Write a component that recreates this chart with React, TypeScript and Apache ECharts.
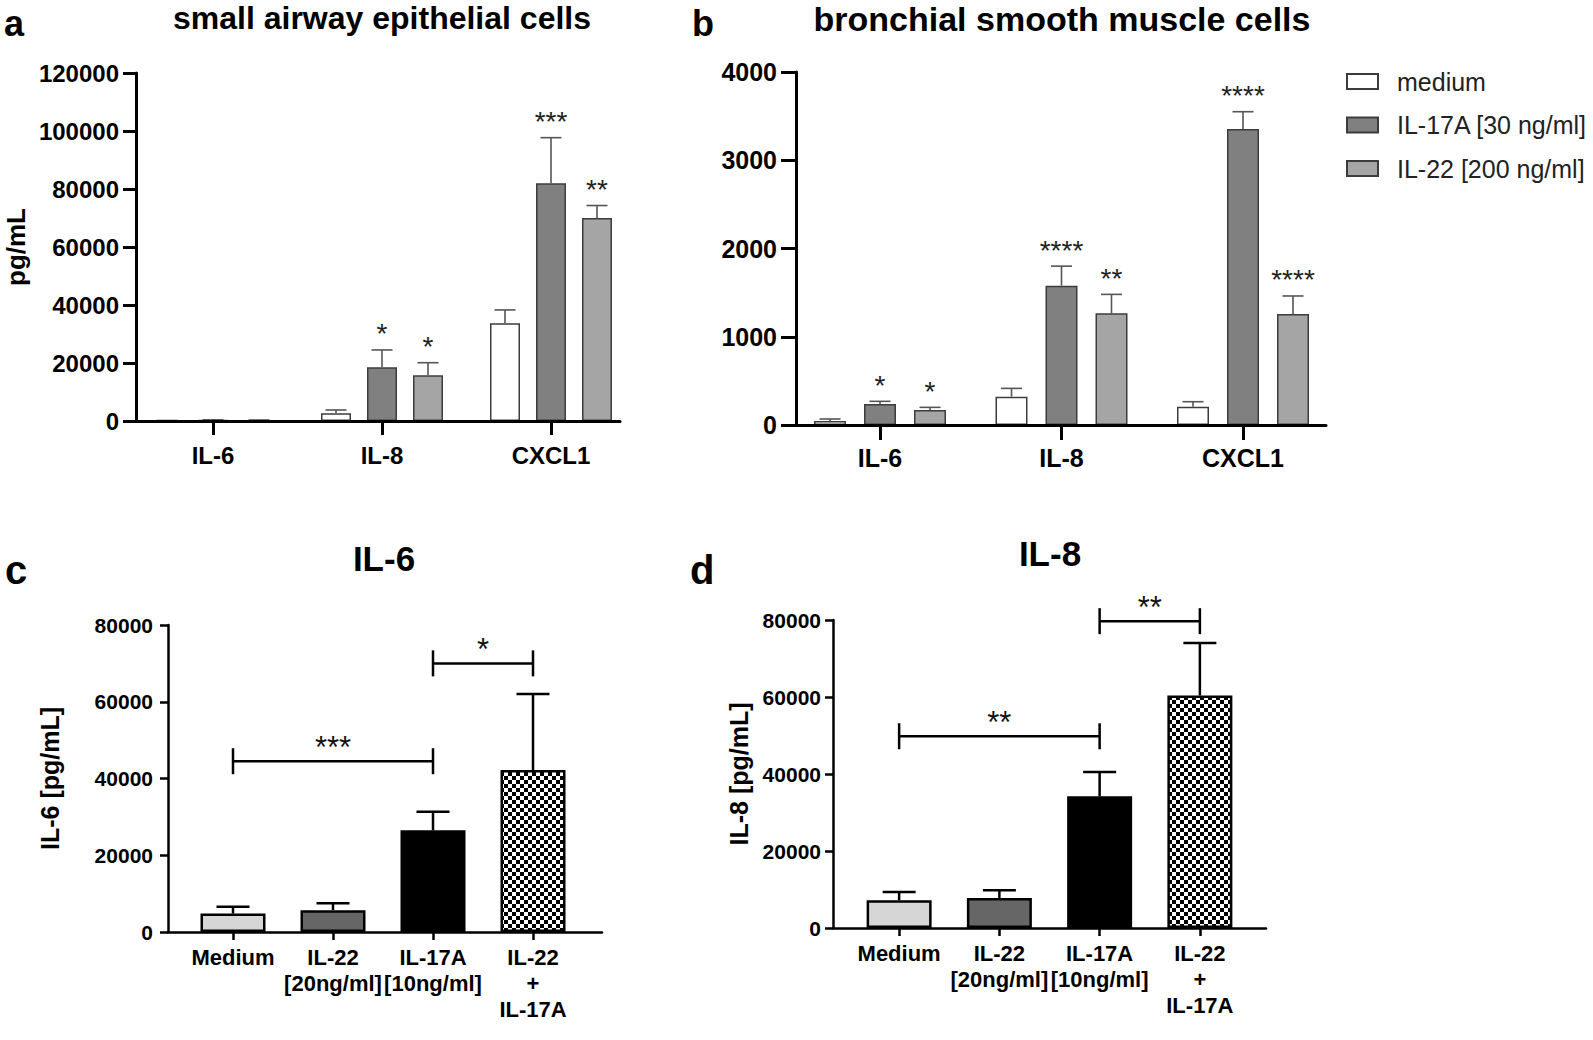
import React, { useEffect, useRef } from 'react';
import * as echarts from 'echarts';

const FONT = "'Liberation Sans', Arial, Helvetica, sans-serif";

// ---------------- Panel a / b : shared categories & groups ----------------
const categoriesAB = ['IL-6', 'IL-8', 'CXCL1'];
const groupNames = ['medium', 'IL-17A [30 ng/ml]', 'IL-22 [200 ng/ml]'];
const groupColors = ['#ffffff', '#808080', '#a5a5a5'];

// Panel a: small airway epithelial cells (pg/mL)
const aYMax = 120000;
const aYStep = 20000;
const aMedium = [120, 2700, 33700];
const aMediumErr = [60, 1100, 4600];
const aIL17A = [300, 18500, 82000];
const aIL17AErr = [100, 6000, 15700];
const aIL22 = [250, 15800, 70000];
const aIL22Err = [100, 4300, 4300];
const aMediumSig = ['', '', ''];
const aIL17ASig = ['', '*', '***'];
const aIL22Sig = ['', '*', '**'];

// Panel b: bronchial smooth muscle cells
const bYMax = 4000;
const bYStep = 1000;
const bMedium = [45, 321, 208];
const bMediumErr = [23, 94, 56];
const bIL17A = [238, 1579, 3354];
const bIL17AErr = [30, 221, 196];
const bIL22 = [170, 1265, 1258];
const bIL22Err = [30, 215, 204];
const bMediumSig = ['', '', ''];
const bIL17ASig = ['*', '****', '****'];
const bIL22Sig = ['*', '**', '****'];

// ---------------- Panel c / d ----------------
const categoriesCD = ['Medium', 'IL-22\n[20ng/ml]', 'IL-17A\n[10ng/ml]', 'IL-22\n+\nIL-17A'];
const cdColors = ['#d6d6d6', '#666666', '#000000', 'checker'];

// Panel c: IL-6
const cYMax = 80000;
const cYStep = 20000;
const cValues = [4800, 5700, 26500, 42200];
const cErr = [1800, 1770, 4850, 19800];
const cBracketFrom = [0, 2];
const cBracketTo = [2, 3];
const cBracketY = [44500, 70000];
const cBracketSig = ['***', '*'];

// Panel d: IL-8
const dYMax = 80000;
const dYStep = 20000;
const dValues = [7200, 7800, 34200, 60400];
const dErr = [2150, 1980, 6300, 13600];
const dBracketFrom = [0, 2];
const dBracketTo = [2, 3];
const dBracketY = [49800, 79700];
const dBracketSig = ['**', '**'];

function makeChecker() {
  const c = document.createElement('canvas');
  c.width = 8;
  c.height = 8;
  const ctx = c.getContext('2d');
  if (ctx) {
    ctx.fillStyle = '#ffffff';
    ctx.fillRect(0, 0, 8, 8);
    ctx.fillStyle = '#000000';
    ctx.fillRect(0, 0, 4, 4);
    ctx.fillRect(4, 4, 4, 4);
  }
  return c;
}

function textEl(text: string, x: number, y: number, font: string, align: string, fill = '#000') {
  return {
    type: 'text',
    x,
    y,
    silent: true,
    style: {
      text,
      font,
      fill,
      textAlign: align,
      textVerticalAlign: 'middle',
      align,
      verticalAlign: 'middle',
    },
  };
}

function errRender(sigs: string[], offset: number, cap: number, color: string, lw: number, starGap: number, starFill: string) {
  return (params: any, api: any) => {
    const j = api.value(0);
    const v = api.value(1);
    const e = api.value(2);
    const p0 = api.coord([j, v]);
    const p1 = api.coord([j, v + e]);
    const x = p0[0] + offset;
    const children: any[] = [
      { type: 'line', shape: { x1: x, y1: p0[1], x2: x, y2: p1[1] }, style: { stroke: color, lineWidth: lw } },
      { type: 'line', shape: { x1: x - cap, y1: p1[1], x2: x + cap, y2: p1[1] }, style: { stroke: color, lineWidth: lw } },
    ];
    const sig = sigs[params.dataIndex];
    if (sig) {
      children.push({
        type: 'text',
        style: {
          text: sig,
          x,
          y: p1[1] - starGap,
          font: `28px ${FONT}`,
          fill: starFill,
          textAlign: 'center',
          textVerticalAlign: 'middle',
          align: 'center',
          verticalAlign: 'middle',
        },
      });
    }
    return { type: 'group', children };
  };
}

function bracketRender(sigs: string[], endHalf: number, lw: number, starGap: number) {
  return (params: any, api: any) => {
    const y = api.value(2);
    const p1 = api.coord([api.value(0), y]);
    const p2 = api.coord([api.value(1), y]);
    const st = { stroke: '#000', lineWidth: lw };
    return {
      type: 'group',
      children: [
        { type: 'line', shape: { x1: p1[0], y1: p1[1], x2: p2[0], y2: p2[1] }, style: st },
        { type: 'line', shape: { x1: p1[0], y1: p1[1] - endHalf, x2: p1[0], y2: p1[1] + endHalf }, style: st },
        { type: 'line', shape: { x1: p2[0], y1: p2[1] - endHalf, x2: p2[0], y2: p2[1] + endHalf }, style: st },
        {
          type: 'text',
          style: {
            text: sigs[params.dataIndex],
            x: (p1[0] + p2[0]) / 2,
            y: p1[1] - starGap,
            font: `31px ${FONT}`,
            fill: '#111',
            textAlign: 'center',
            textVerticalAlign: 'middle',
            align: 'center',
            verticalAlign: 'middle',
          },
        },
      ],
    };
  };
}

function frameX(gridIndex: number, lw: number) {
  return {
    type: 'value',
    gridIndex,
    min: 0,
    max: 1,
    z: 5,
    axisLine: { show: true, onZero: false, lineStyle: { color: '#000', width: lw } },
    axisTick: { show: false },
    axisLabel: { show: false },
    splitLine: { show: false },
  };
}

function frameY(gridIndex: number, max: number, step: number, lw: number, tickLen: number, fontSize: number, margin: number, name = '', nameGap = 0, nameSize = 24) {
  return {
    type: 'value',
    gridIndex,
    min: 0,
    max,
    interval: step,
    z: 5,
    name,
    nameLocation: 'middle',
    nameRotate: 90,
    nameGap,
    nameTextStyle: { fontSize: nameSize, fontWeight: 'bold', fontFamily: FONT, color: '#000' },
    axisLine: { show: true, lineStyle: { color: '#000', width: lw } },
    axisTick: { show: true, length: tickLen, lineStyle: { color: '#000', width: lw } },
    axisLabel: { show: true, fontSize, fontWeight: 'bold', fontFamily: FONT, color: '#000', margin, formatter: (v: number) => String(v) },
    splitLine: { show: false },
  };
}

function barX(gridIndex: number, cats: string[], lw: number, tickLen: number, fontSize: number, margin: number, lineHeight: number) {
  return {
    type: 'category',
    gridIndex,
    data: cats,
    z: 5,
    axisLine: { show: false },
    axisTick: { show: true, alignWithLabel: true, length: tickLen, lineStyle: { color: '#000', width: lw } },
    axisLabel: { show: true, interval: 0, fontSize, fontWeight: 'bold', fontFamily: FONT, color: '#000', margin, lineHeight },
    splitLine: { show: false },
  };
}

function barY(gridIndex: number, max: number) {
  return { type: 'value', gridIndex, min: 0, max, show: false, splitLine: { show: false } };
}

function buildOption() {
  const checker = makeChecker();
  const pattern = { image: checker, repeat: 'repeat', imageWidth: 8, imageHeight: 8 };

  const grid = [
    { left: 136, top: 73, width: 484, height: 348 },
    { left: 128.5, top: 73, width: 507, height: 348 },
    { left: 796, top: 72, width: 530, height: 353 },
    { left: 789.25, top: 72, width: 544.5, height: 353 },
    { left: 168, top: 625, width: 434, height: 307 },
    { left: 183, top: 625, width: 400, height: 307 },
    { left: 833, top: 620, width: 433, height: 308 },
    { left: 849, top: 620, width: 401, height: 308 },
  ];

  const xAxis = [
    frameX(0, 3),
    barX(1, categoriesAB, 3, 14, 24, 22, 24),
    frameX(2, 3),
    barX(3, categoriesAB, 3, 15, 25, 20, 25),
    frameX(4, 2.5),
    barX(5, categoriesCD, 2.5, 8, 22, 12, 26),
    frameX(6, 2.5),
    barX(7, categoriesCD, 2.5, 8, 22, 12, 26),
  ];

  const yAxis = [
    frameY(0, aYMax, aYStep, 3, 13, 24, 17, 'pg/mL', 107, 26),
    barY(1, aYMax),
    frameY(2, bYMax, bYStep, 3, 15, 25, 19),
    barY(3, bYMax),
    frameY(4, cYMax, cYStep, 2.5, 8, 21, 15, 'IL-6 [pg/mL]', 106, 25),
    barY(5, cYMax),
    frameY(6, dYMax, dYStep, 2.5, 8, 21, 12, 'IL-8 [pg/mL]', 82, 25),
    barY(7, dYMax),
  ];

  const series: any[] = [];

  const abPanels = [
    { axis: 1, vals: [aMedium, aIL17A, aIL22], errs: [aMediumErr, aIL17AErr, aIL22Err], sigs: [aMediumSig, aIL17ASig, aIL22Sig], bw: 30, pitch: 46 },
    { axis: 3, vals: [bMedium, bIL17A, bIL22], errs: [bMediumErr, bIL17AErr, bIL22Err], sigs: [bMediumSig, bIL17ASig, bIL22Sig], bw: 32, pitch: 50 },
  ];
  abPanels.forEach((p) => {
    for (let i = 0; i < 3; i++) {
      series.push({
        type: 'bar',
        name: groupNames[i],
        xAxisIndex: p.axis,
        yAxisIndex: p.axis,
        data: p.vals[i],
        barWidth: p.bw,
        barGap: `${((p.pitch - p.bw) / p.bw) * 100}%`,
        itemStyle: { color: groupColors[i], borderColor: '#3c3c3c', borderWidth: 1.5 },
        silent: true,
      });
    }
    for (let i = 0; i < 3; i++) {
      series.push({
        type: 'custom',
        xAxisIndex: p.axis,
        yAxisIndex: p.axis,
        z: 4,
        silent: true,
        data: p.vals[i].map((v, j) => [j, v, p.errs[i][j]]),
        renderItem: errRender(p.sigs[i], (i - 1) * p.pitch, 10.5, '#555', 1.6, 16, '#222'),
      });
    }
  });

  const cdPanels = [
    { axis: 5, vals: cValues, errs: cErr, from: cBracketFrom, to: cBracketTo, by: cBracketY, sig: cBracketSig, name: 'IL-6' },
    { axis: 7, vals: dValues, errs: dErr, from: dBracketFrom, to: dBracketTo, by: dBracketY, sig: dBracketSig, name: 'IL-8' },
  ];
  cdPanels.forEach((p) => {
    series.push({
      type: 'bar',
      name: p.name + ' level',
      xAxisIndex: p.axis,
      yAxisIndex: p.axis,
      barWidth: 65,
      silent: true,
      data: p.vals.map((v, j) => ({
        value: v,
        itemStyle: { color: cdColors[j] === 'checker' ? pattern : cdColors[j], borderColor: '#000', borderWidth: 2.5 },
      })),
    });
    series.push({
      type: 'custom',
      xAxisIndex: p.axis,
      yAxisIndex: p.axis,
      z: 4,
      silent: true,
      data: p.vals.map((v, j) => [j, v, p.errs[j]]),
      renderItem: errRender(['', '', '', ''], 0, 16.5, '#000', 2.5, 0, '#000'),
    });
    series.push({
      type: 'custom',
      xAxisIndex: p.axis,
      yAxisIndex: p.axis,
      z: 4,
      silent: true,
      encode: { x: [0, 1], y: 2 },
      data: p.from.map((f, k) => [f, p.to[k], p.by[k]]),
      renderItem: bracketRender(p.sig, 13, 2.5, 14),
    });
  });

  const graphic = [
    textEl('a', 4, 23, `bold 36px ${FONT}`, 'left'),
    textEl('small airway epithelial cells', 382, 18, `bold 32px ${FONT}`, 'center'),
    textEl('b', 692, 23, `bold 36px ${FONT}`, 'left'),
    textEl('bronchial smooth muscle cells', 1062, 19, `bold 34px ${FONT}`, 'center'),
    textEl('c', 5, 570, `bold 40px ${FONT}`, 'left'),
    textEl('IL-6', 384, 558, `bold 35px ${FONT}`, 'center'),
    textEl('d', 690, 570, `bold 40px ${FONT}`, 'left'),
    textEl('IL-8', 1050, 553, `bold 35px ${FONT}`, 'center'),
  ];

  return {
    animation: false,
    backgroundColor: '#ffffff',
    textStyle: { fontFamily: FONT },
    grid,
    xAxis,
    yAxis,
    series,
    graphic,
    legend: {
      data: groupNames,
      orient: 'vertical',
      left: 1341,
      top: 64,
      itemWidth: 31,
      itemHeight: 15,
      itemGap: 18.5,
      icon: 'rect',
      selectedMode: false,
      textStyle: { fontSize: 25, color: '#222', fontFamily: FONT, padding: [0, 0, 0, 14] },
    },
  };
}

export default function App() {
  const ref = useRef<HTMLDivElement>(null);
  useEffect(() => {
    if (!ref.current) return;
    const chart = echarts.init(ref.current, null, { renderer: 'svg' });
    chart.setOption(buildOption() as any);
    return () => chart.dispose();
  }, []);
  return (
    <div
      ref={ref}
      style={{ position: 'absolute', left: 0, top: 0, width: 1593, height: 1040, background: '#fff' }}
    />
  );
}
